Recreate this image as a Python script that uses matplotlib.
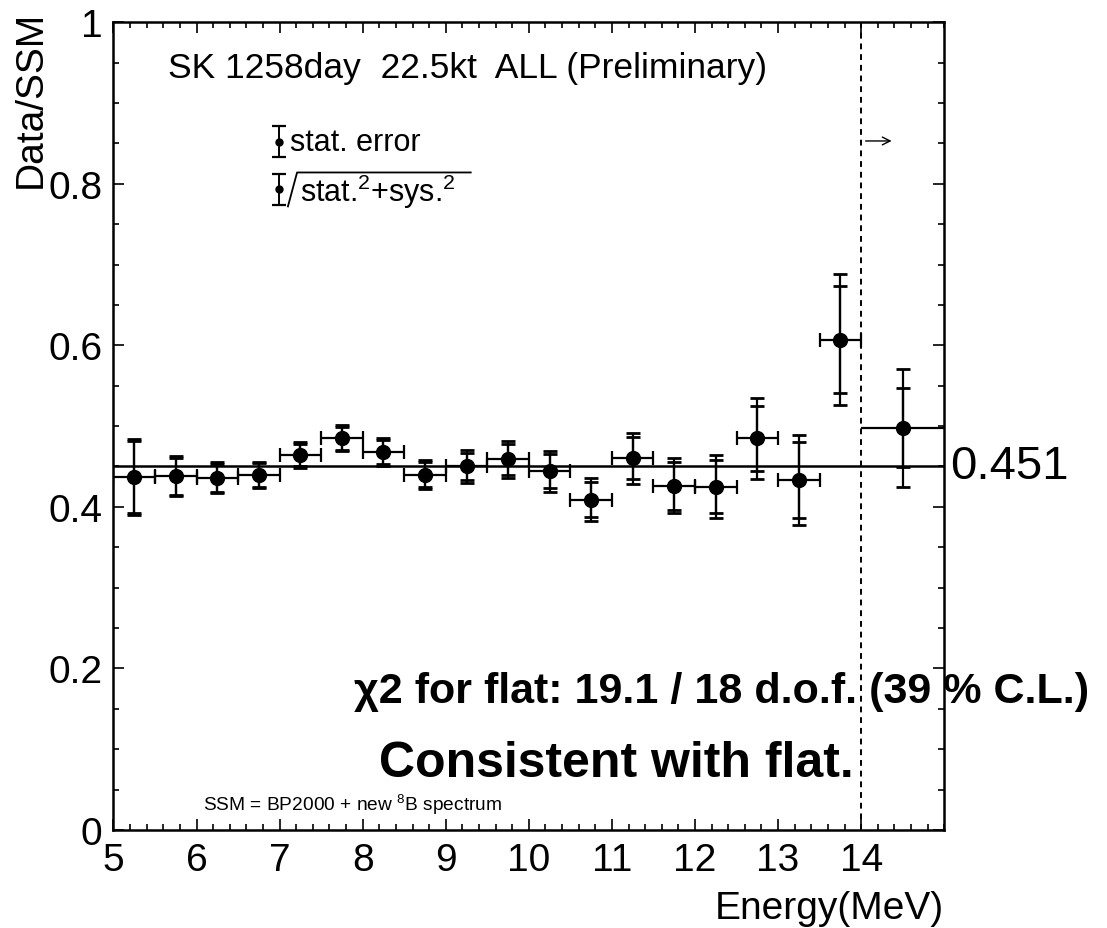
import matplotlib
matplotlib.use("Agg")
import matplotlib.pyplot as plt
from matplotlib.lines import Line2D
from matplotlib.ticker import MultipleLocator, FixedLocator, FixedFormatter

plt.rcParams['font.family'] = ['Liberation Sans', 'DejaVu Sans']
plt.rcParams['mathtext.fontset'] = 'custom'
plt.rcParams['mathtext.rm'] = 'Liberation Sans'
plt.rcParams['mathtext.it'] = 'Liberation Sans:italic'
plt.rcParams['mathtext.bf'] = 'Liberation Sans:bold'

# Energy bins (MeV): centres and half widths
energy = [5.25, 5.75, 6.25, 6.75, 7.25, 7.75, 8.25, 8.75, 9.25, 9.75,
          10.25, 10.75, 11.25, 11.75, 12.25, 12.75, 13.25, 13.75, 14.5]
half_width = [0.25] * 18 + [0.5]

# Data/SSM ratio with statistical and total (stat (+) sys) errors
ratio = [0.437, 0.438, 0.436, 0.439, 0.464, 0.485, 0.468, 0.440, 0.450, 0.459,
         0.444, 0.409, 0.460, 0.426, 0.425, 0.485, 0.433, 0.607, 0.498]
stat_err = [0.045, 0.023, 0.017, 0.015, 0.014, 0.014, 0.015, 0.016, 0.017, 0.019,
            0.021, 0.022, 0.026, 0.030, 0.033, 0.040, 0.047, 0.066, 0.049]
total_err = [0.047, 0.025, 0.019, 0.016, 0.016, 0.016, 0.017, 0.018, 0.021, 0.023,
             0.025, 0.027, 0.032, 0.034, 0.039, 0.050, 0.056, 0.081, 0.073]

flat_value = 0.451
threshold = 14.0

x_ticks = [5, 6, 7, 8, 9, 10, 11, 12, 13, 14]
y_ticks = [0, 0.2, 0.4, 0.6, 0.8, 1.0]
y_tick_labels = ['0', '0.2', '0.4', '0.6', '0.8', '1']

fig = plt.figure(figsize=(11.07, 9.29), dpi=100)
ax = fig.add_axes([0.1025, 0.1055, 0.7505, 0.8695])

# Horizontal bin bars with end caps
ax.errorbar(energy[:-1], ratio[:-1], xerr=half_width[:-1], fmt='none',
            ecolor='black', elinewidth=1.6, capsize=5, capthick=1.6, zorder=3)
ax.errorbar(energy[-1:], ratio[-1:], xerr=half_width[-1:], fmt='none',
            ecolor='black', elinewidth=1.6, capsize=0, zorder=3)
# Total error
ax.errorbar(energy, ratio, yerr=total_err, fmt='none', ecolor='black',
            elinewidth=1.6, capsize=5, capthick=2.0, zorder=3)
# Statistical error
ax.errorbar(energy, ratio, yerr=stat_err, fmt='o', color='black', ms=10,
            ecolor='black', elinewidth=1.6, capsize=5, capthick=2.0, zorder=4)

# Flat fit
ax.axhline(flat_value, color='black', lw=1.8, zorder=2)
ax.text(15.07, flat_value, f"{flat_value:.3f}", fontsize=34, va='center',
        ha='left', clip_on=False)

# Analysis threshold
ax.axvline(threshold, color='black', lw=1.4, ls=(0, (3, 2.5)), zorder=2)
ax.annotate("", xy=(threshold + 0.4, 0.853), xytext=(threshold + 0.02, 0.853),
            arrowprops=dict(arrowstyle='->', lw=1.0, color='black',
                            mutation_scale=14))

ax.set_xlim(5, 15)
ax.set_ylim(0, 1)
ax.xaxis.set_major_locator(FixedLocator(x_ticks))
ax.xaxis.set_minor_locator(MultipleLocator(0.2))
ax.yaxis.set_major_locator(FixedLocator(y_ticks))
ax.yaxis.set_major_formatter(FixedFormatter(y_tick_labels))
ax.yaxis.set_minor_locator(MultipleLocator(0.05))
ax.tick_params(which='both', direction='in', top=True, right=True,
               labelsize=28, width=1.2)
ax.tick_params(which='major', length=8)
ax.tick_params(which='minor', length=4)
ax.tick_params(axis='x', pad=9)
ax.tick_params(axis='y', pad=8)
for s in ax.spines.values():
    s.set_linewidth(1.8)

ax.set_xlabel("Energy(MeV)", fontsize=28, loc='right')
ax.xaxis.set_label_coords(1.0, -0.074)
ax.set_ylabel("Data/SSM", fontsize=28, loc='top')
ax.yaxis.set_label_coords(-0.078, 1.016)

ax.text(0.066, 0.944, "SK 1258day  22.5kt  ALL (Preliminary)",
        transform=ax.transAxes, fontsize=25.5, va='center', ha='left')

# Legend keys
for yk in [0.852, 0.793]:
    ax.errorbar([0.199], [yk], yerr=[0.019], fmt='o', ms=5, color='black',
                elinewidth=1.4, capsize=5, capthick=1.6,
                transform=ax.transAxes)
ax.text(0.212, 0.852, "stat. error", transform=ax.transAxes, fontsize=22,
        va='center', ha='left')
ax.text(0.224, 0.791, r"stat.$^{2}$+sys.$^{2}$", transform=ax.transAxes,
        fontsize=22, va='center', ha='left')
# radical sign over the quadrature sum
ax.add_line(Line2D([0.210, 0.221, 0.430], [0.772, 0.814, 0.814],
                   transform=ax.transAxes, color='black', lw=1.3))

ax.text(7.9, 0.172, "\u03c72 for flat: 19.1 / 18 d.o.f. (39 % C.L.)",
        fontsize=31, fontweight='bold', va='center', ha='left', clip_on=False)
ax.text(8.2, 0.083, "Consistent with flat.", fontsize=36, fontweight='bold',
        va='center', ha='left')
ax.text(0.108, 0.032, r"SSM = BP2000 + new $^{8}$B spectrum",
        transform=ax.transAxes, fontsize=13.8, va='center', ha='left')

fig.savefig("out.png", dpi=100)
